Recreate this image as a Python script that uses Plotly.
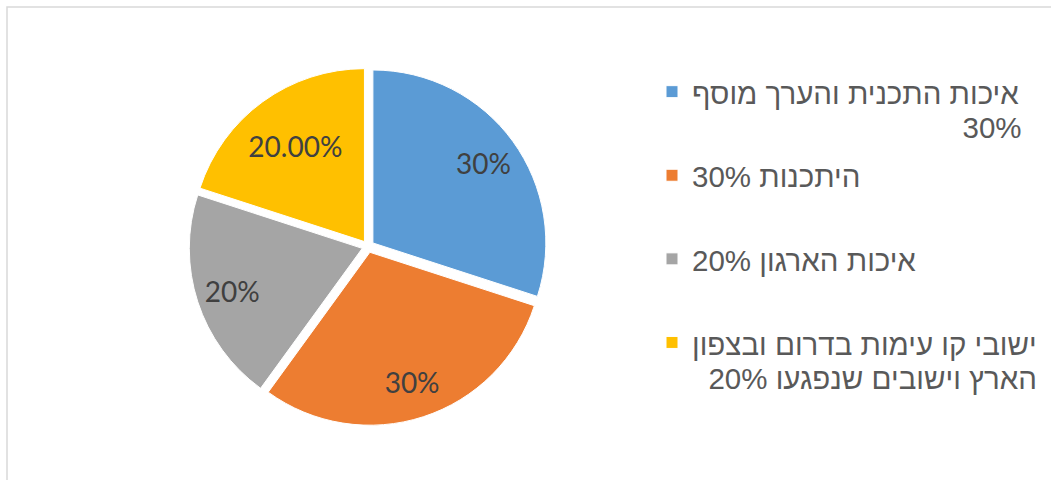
import plotly.graph_objects as go

# ---- data ----
categories = [
    "איכות התכנית והערך מוסף",
    "היתכנות",
    "איכות הארגון",
    "ישובי קו עימות בדרום ובצפון הארץ וישובים שנפגעו",
]
values = [30, 30, 20, 20]
slice_labels = ["30%", "30%", "20%", "20.00%"]
legend_pct = ["30%", "30%", "20%", "20%"]
colors = ["#5B9BD5", "#ED7D31", "#A5A5A5", "#FFC000"]

RLE, PDF = "\u202b", "\u202c"
NB = "\u00a0"
LEG_FS = 29.5


def rtl(s):
    return RLE + s + PDF


def legend_text(lines, pads):
    out = []
    for i, (ln, p) in enumerate(zip(lines, pads)):
        style = "font-size:%spx" % LEG_FS
        if i > 0:
            style += ";baseline-shift:6.5px"
        out.append("<span style='" + style + "'>" + NB * p + rtl(ln) + "</span>")
    while len(out) < 2:
        out.append(NB)
    return "<br>".join(out)


legend_labels = [
    legend_text([categories[0], legend_pct[0]], [0, 33]),
    legend_text([categories[1] + " " + legend_pct[1]], [0]),
    legend_text([categories[2] + " " + legend_pct[2]], [0]),
    legend_text(["ישובי קו עימות בדרום ובצפון", "הארץ וישובים שנפגעו " + legend_pct[3]], [0, 2]),
]

W, H = 1051, 480
cx, cy, r_box = 368, 246.5, 179
dom = dict(
    x=[(cx - r_box) / W, (cx + r_box) / W],
    y=[(H - cy - r_box) / H, (H - cy + r_box) / H],
)
pulls = [0.035] * 4
common = dict(
    values=values,
    pull=pulls,
    sort=False,
    direction="clockwise",
    rotation=0,
    domain=dom,
)

fig = go.Figure()
fig.add_trace(
    go.Pie(
        labels=legend_labels,
        textinfo="none",
        marker=dict(colors=colors, line=dict(color="white", width=1)),
        hoverinfo="label+percent",
        **common,
    )
)

# transparent rings carrying the slice labels (placed out toward the rim)
label_rings = [
    (0.58, [t if i < 3 else "" for i, t in enumerate(slice_labels)]),
    (0.36, [t if i == 3 else "" for i, t in enumerate(slice_labels)]),
]
for hole, txt in label_rings:
    fig.add_trace(
        go.Pie(
            labels=legend_labels,
            text=txt,
            textinfo="text",
            textposition="inside",
            insidetextorientation="horizontal",
            textfont=dict(family="Lato", size=28, color="#404040"),
            marker=dict(colors=["rgba(0,0,0,0)"] * 4, line=dict(width=0)),
            hole=hole,
            showlegend=False,
            hoverinfo="skip",
            **common,
        )
    )

fig.update_layout(
    width=W,
    height=H,
    margin=dict(l=0, r=0, t=0, b=0),
    paper_bgcolor="white",
    showlegend=True,
    legend=dict(
        x=652 / W,
        xanchor="left",
        y=(H - 65) / H,
        yanchor="top",
        valign="top",
        font=dict(family="Liberation Sans, Arial", size=31.0, color="#595959"),
        bgcolor="rgba(0,0,0,0)",
    ),
    shapes=[
        dict(
            type="rect",
            xref="paper",
            yref="paper",
            x0=7 / W,
            x1=1.05,
            y0=-0.05,
            y1=(H - 7) / H,
            line=dict(color="#D9D9D9", width=1.5),
            fillcolor="rgba(0,0,0,0)",
            layer="below",
        )
    ],
)

fig.write_html(
    "out.html",
    config={"displayModeBar": False},
    post_script="document.body.style.margin='0';",
)
